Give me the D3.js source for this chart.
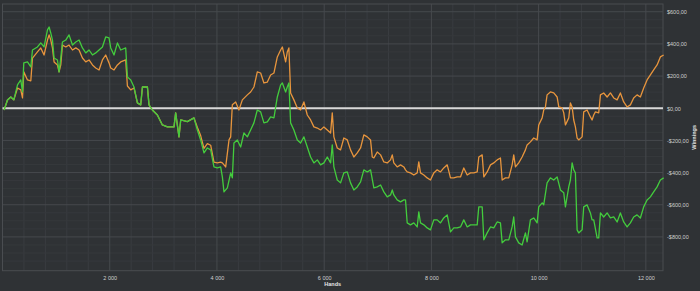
<!DOCTYPE html>
<html><head><meta charset="utf-8">
<script src="https://cdn.jsdelivr.net/npm/d3@7"></script>
<style>html,body{margin:0;padding:0;background:#2f3235;} svg{display:block}</style>
</head><body><svg id="c" width="700" height="291"></svg>
<script>
const xTicks = [2000, 4000, 6000, 8000, 10000, 12000];
const yTicks = [-800, -600, -400, -200, 0, 200, 400, 600];
const xTitle = "Hands";
const yTitle = "Winnings";

const greenHands = [30,93,155,211,280,341,373,397,466,528,559,652,714,775,839,869,900,932,962,1025,1055,1087,1118,1180,1241,1305,1367,1428,1491,1553,1614,1678,1739,1801,1864,1925,1987,2019,2080,2144,2205,2298,2330,2392,2453,2516,2578,2610,2703,2733,2796,2889,2982,3076,3199,3230,3292,3324,3448,3571,3635,3696,3758,3821,3883,3944,4007,4069,4101,4131,4194,4256,4287,4317,4380,4442,4503,4567,4628,4690,4753,4815,4876,4940,5001,5063,5126,5188,5220,5281,5312,5342,5374,5435,5499,5560,5622,5685,5747,5808,5872,5933,5995,6058,6120,6151,6181,6244,6306,6367,6431,6492,6554,6617,6679,6740,6804,6865,6927,6990,7052,7113,7176,7238,7270,7299,7362,7424,7486,7517,7549,7610,7672,7735,7765,7797,7859,7922,7983,8045,8108,8170,8231,8295,8356,8418,8481,8543,8604,8668,8729,8791,8854,8884,8947,8978,9040,9102,9163,9227,9288,9320,9381,9443,9506,9536,9568,9629,9692,9754,9785,9847,9909,9972,10002,10066,10095,10158,10220,10282,10345,10407,10469,10500,10562,10593,10625,10655,10686,10718,10748,10811,10841,10904,10966,10997,11028,11091,11121,11153,11214,11278,11339,11401,11464,11525,11587,11650,11712,11773,11836,11898,11960,12023,12085,12146,12210,12271,12332];
const greenValues = [-11,51,70,52,145,176,101,282,288,257,362,381,406,381,487,505,468,424,312,300,226,312,412,424,456,393,412,424,375,344,362,331,344,362,381,443,437,375,331,406,362,375,195,176,132,33,21,132,132,21,-11,-42,-104,-116,-116,-29,-178,-73,-83,-60,-135,-197,-278,-247,-259,-365,-371,-365,-427,-520,-495,-402,-433,-216,-197,-241,-154,-178,-135,-91,-11,-23,-91,-85,-54,-60,70,145,157,101,132,157,-91,-135,-197,-216,-178,-241,-303,-340,-321,-352,-340,-303,-340,-228,-365,-446,-464,-402,-396,-464,-508,-489,-458,-383,-396,-383,-495,-489,-477,-520,-551,-539,-508,-539,-570,-582,-570,-570,-713,-725,-713,-738,-644,-713,-725,-744,-756,-694,-694,-713,-682,-663,-769,-744,-744,-738,-694,-738,-725,-725,-725,-613,-613,-818,-775,-738,-744,-707,-713,-837,-818,-818,-738,-676,-800,-837,-850,-775,-831,-694,-682,-713,-613,-588,-601,-464,-433,-446,-427,-508,-526,-613,-489,-446,-340,-383,-402,-756,-775,-756,-613,-601,-651,-694,-694,-806,-806,-651,-676,-651,-682,-676,-707,-651,-707,-738,-713,-676,-663,-682,-613,-570,-551,-520,-489,-446,-433];

const orangeHands = [30,93,155,211,280,341,373,397,466,528,559,652,714,775,839,869,900,932,962,1025,1055,1087,1118,1180,1241,1305,1367,1428,1491,1553,1614,1678,1739,1801,1864,1925,1987,2019,2080,2144,2205,2298,2330,2392,2453,
2516,2578,2610,2703,2733,2796,2889,2982,3076,3199,3230,3292,3324,3448,3571,
3635,3696,3758,3821,3883,3944,4007,4069,4101,4163,4225,4256,4287,4349,4410,4474,
4567,4628,4690,4753,4815,4876,4940,5001,5063,5126,5188,5220,5281,5312,5342,5374,5435,5499,5560,5622,5685,5747,5808,5872,5933,5995,6058,6120,6151,6181,6244,6306,6367,6431,6492,6554,6617,6679,
6740,6804,6865,6897,6927,6990,7052,7113,7176,7238,7270,7299,7362,7424,7486,7517,7549,7610,7672,7735,7765,7797,7859,7922,7983,8045,8108,8170,8231,8295,8356,8418,8481,8543,8604,8668,8729,8791,8854,8884,8947,8978,9040,9102,9163,9227,9288,9320,9381,9443,9506,9536,9568,9629,9692,
9754,9785,9847,9909,9972,10002,10066,10095,10127,10158,10220,10282,10345,10376,10438,10469,10500,10562,10593,10625,10655,10686,10718,10748,10811,10841,10904,10966,10997,11028,11059,11121,
11153,11214,11278,11339,11401,11464,11525,11587,11650,11712,11773,11836,11898,11960,12023,12085,12146,12210,12271,12332];
const orangeValues = [-11,51,70,52,126,114,64,226,176,170,312,350,375,331,424,456,424,375,288,269,226,269,393,381,393,362,375,362,312,288,300,269,250,238,300,331,282,250,238,269,288,300,138,114,126,
33,21,132,132,21,-11,-42,-104,-116,-116,-29,-178,-73,-83,-60,
-120,-170,-250,-220,-230,-335,-340,-335,-340,-365,-197,-178,21,39,-11,52,
83,101,132,226,219,157,163,207,219,319,362,381,288,350,375,95,52,2,-11,39,-42,-73,-116,-123,-135,-116,-135,-154,-29,-178,-247,-259,-185,-197,-259,-303,-278,-247,
-166,-178,-197,-303,-309,-272,-290,-334,-340,-321,-290,-340,-365,-352,-365,-383,-396,-402,-415,-402,-334,-402,-415,-433,-446,-402,-383,-396,-371,-352,-433,-433,-427,-427,-371,-415,-402,-402,-396,-303,-290,-427,-396,-352,-340,-321,-309,-446,-433,-433,-352,-290,-365,-340,-303,
-259,-228,-209,-185,-197,-104,-60,-11,8,83,101,95,70,8,2,-29,-104,-60,33,8,-73,-116,-185,-197,-178,-23,-11,-54,-73,-42,-23,-29,
83,95,70,95,64,52,95,39,8,21,64,83,70,126,176,207,238,269,319,331];

const W = 700, H = 291;
const plot = {left: 2.5, right: 663, top: 4, bottom: 270.7};
const svg = d3.select("#c");
svg.append("rect").attr("width", W).attr("height", H).attr("fill", "#2f3235");

const x = d3.scaleLinear().domain([0, 12320]).range([plot.left, plot.right]);
const y = d3.scaleLinear().domain([-1010, 648]).range([plot.bottom, plot.top]);

const g = svg.append("g");
const minorX = d3.range(400, 12320, 400).filter(v => v % 2000 !== 0);
const minorY = d3.range(-1000, 648, 50).filter(v => v % 200 !== 0);
g.selectAll("line.mx").data(minorX).join("line")
  .attr("x1", d => x(d)).attr("x2", d => x(d)).attr("y1", plot.top).attr("y2", plot.bottom)
  .attr("stroke", "#393c40").attr("stroke-width", 1);
g.selectAll("line.my").data(minorY).join("line")
  .attr("y1", d => y(d)).attr("y2", d => y(d)).attr("x1", plot.left).attr("x2", plot.right)
  .attr("stroke", "#36393c").attr("stroke-width", 1);
g.selectAll("line.Mx").data(xTicks).join("line")
  .attr("x1", d => x(d)).attr("x2", d => x(d)).attr("y1", plot.top).attr("y2", plot.bottom)
  .attr("stroke", "#46494d").attr("stroke-width", 1);
g.selectAll("line.My").data(yTicks).join("line")
  .attr("y1", d => y(d)).attr("y2", d => y(d)).attr("x1", plot.left).attr("x2", plot.right)
  .attr("stroke", "#46494d").attr("stroke-width", 1);
g.append("rect").attr("x", plot.left).attr("y", plot.top)
  .attr("width", plot.right - plot.left).attr("height", plot.bottom - plot.top)
  .attr("fill", "none").attr("stroke", "#4a4d51").attr("stroke-width", 1);

g.append("line").attr("x1", plot.left).attr("x2", plot.right)
  .attr("y1", y(0)).attr("y2", y(0)).attr("stroke", "#d9d9d9").attr("stroke-width", 2);

const line = d3.line().x(d => x(d[0])).y(d => y(d[1]));
const orange = d3.zip(orangeHands, orangeValues);
const green = d3.zip(greenHands, greenValues);
g.append("path").datum(orange).attr("d", line).attr("fill", "none")
  .attr("stroke", "#e8953d").attr("stroke-width", 1.3).attr("stroke-linejoin", "round");
g.append("path").datum(green).attr("d", line).attr("fill", "none")
  .attr("stroke", "#43cc3d").attr("stroke-width", 1.3).attr("stroke-linejoin", "round");

const fmtX = v => d3.format(",")(v).replace(/,/g, " ");
const fmtY = v => (v < 0 ? "-" : "") + "$" + Math.abs(v) + ",00";
const xa = svg.append("g").attr("transform", `translate(0,${plot.bottom + 2})`)
  .call(d3.axisBottom(x).tickValues(xTicks).tickFormat(fmtX).tickSize(0).tickPadding(3));
const ya = svg.append("g").attr("transform", `translate(${plot.right + 4},0)`)
  .call(d3.axisRight(y).tickValues(yTicks).tickFormat(fmtY).tickSize(0).tickPadding(0));
[xa, ya].forEach(a => {
  a.select(".domain").remove();
  a.selectAll("text").attr("fill", "#d0d0d0").style("font-family", "Liberation Sans, Arial, sans-serif").style("font-size", "5.5px");
});

svg.append("text").text(xTitle).attr("x", (plot.left + plot.right) / 2).attr("y", 285.5)
  .attr("text-anchor", "middle").attr("fill", "#e6e6e6")
  .style("font-family", "Liberation Sans, Arial, sans-serif").style("font-size", "5.5px").style("font-weight", "bold");
svg.append("text").text(yTitle)
  .attr("transform", `translate(695.5,${(plot.top + plot.bottom) / 2}) rotate(-90)`)
  .attr("text-anchor", "middle").attr("fill", "#e6e6e6")
  .style("font-family", "Liberation Sans, Arial, sans-serif").style("font-size", "5.5px").style("font-weight", "bold");
</script></body></html>
